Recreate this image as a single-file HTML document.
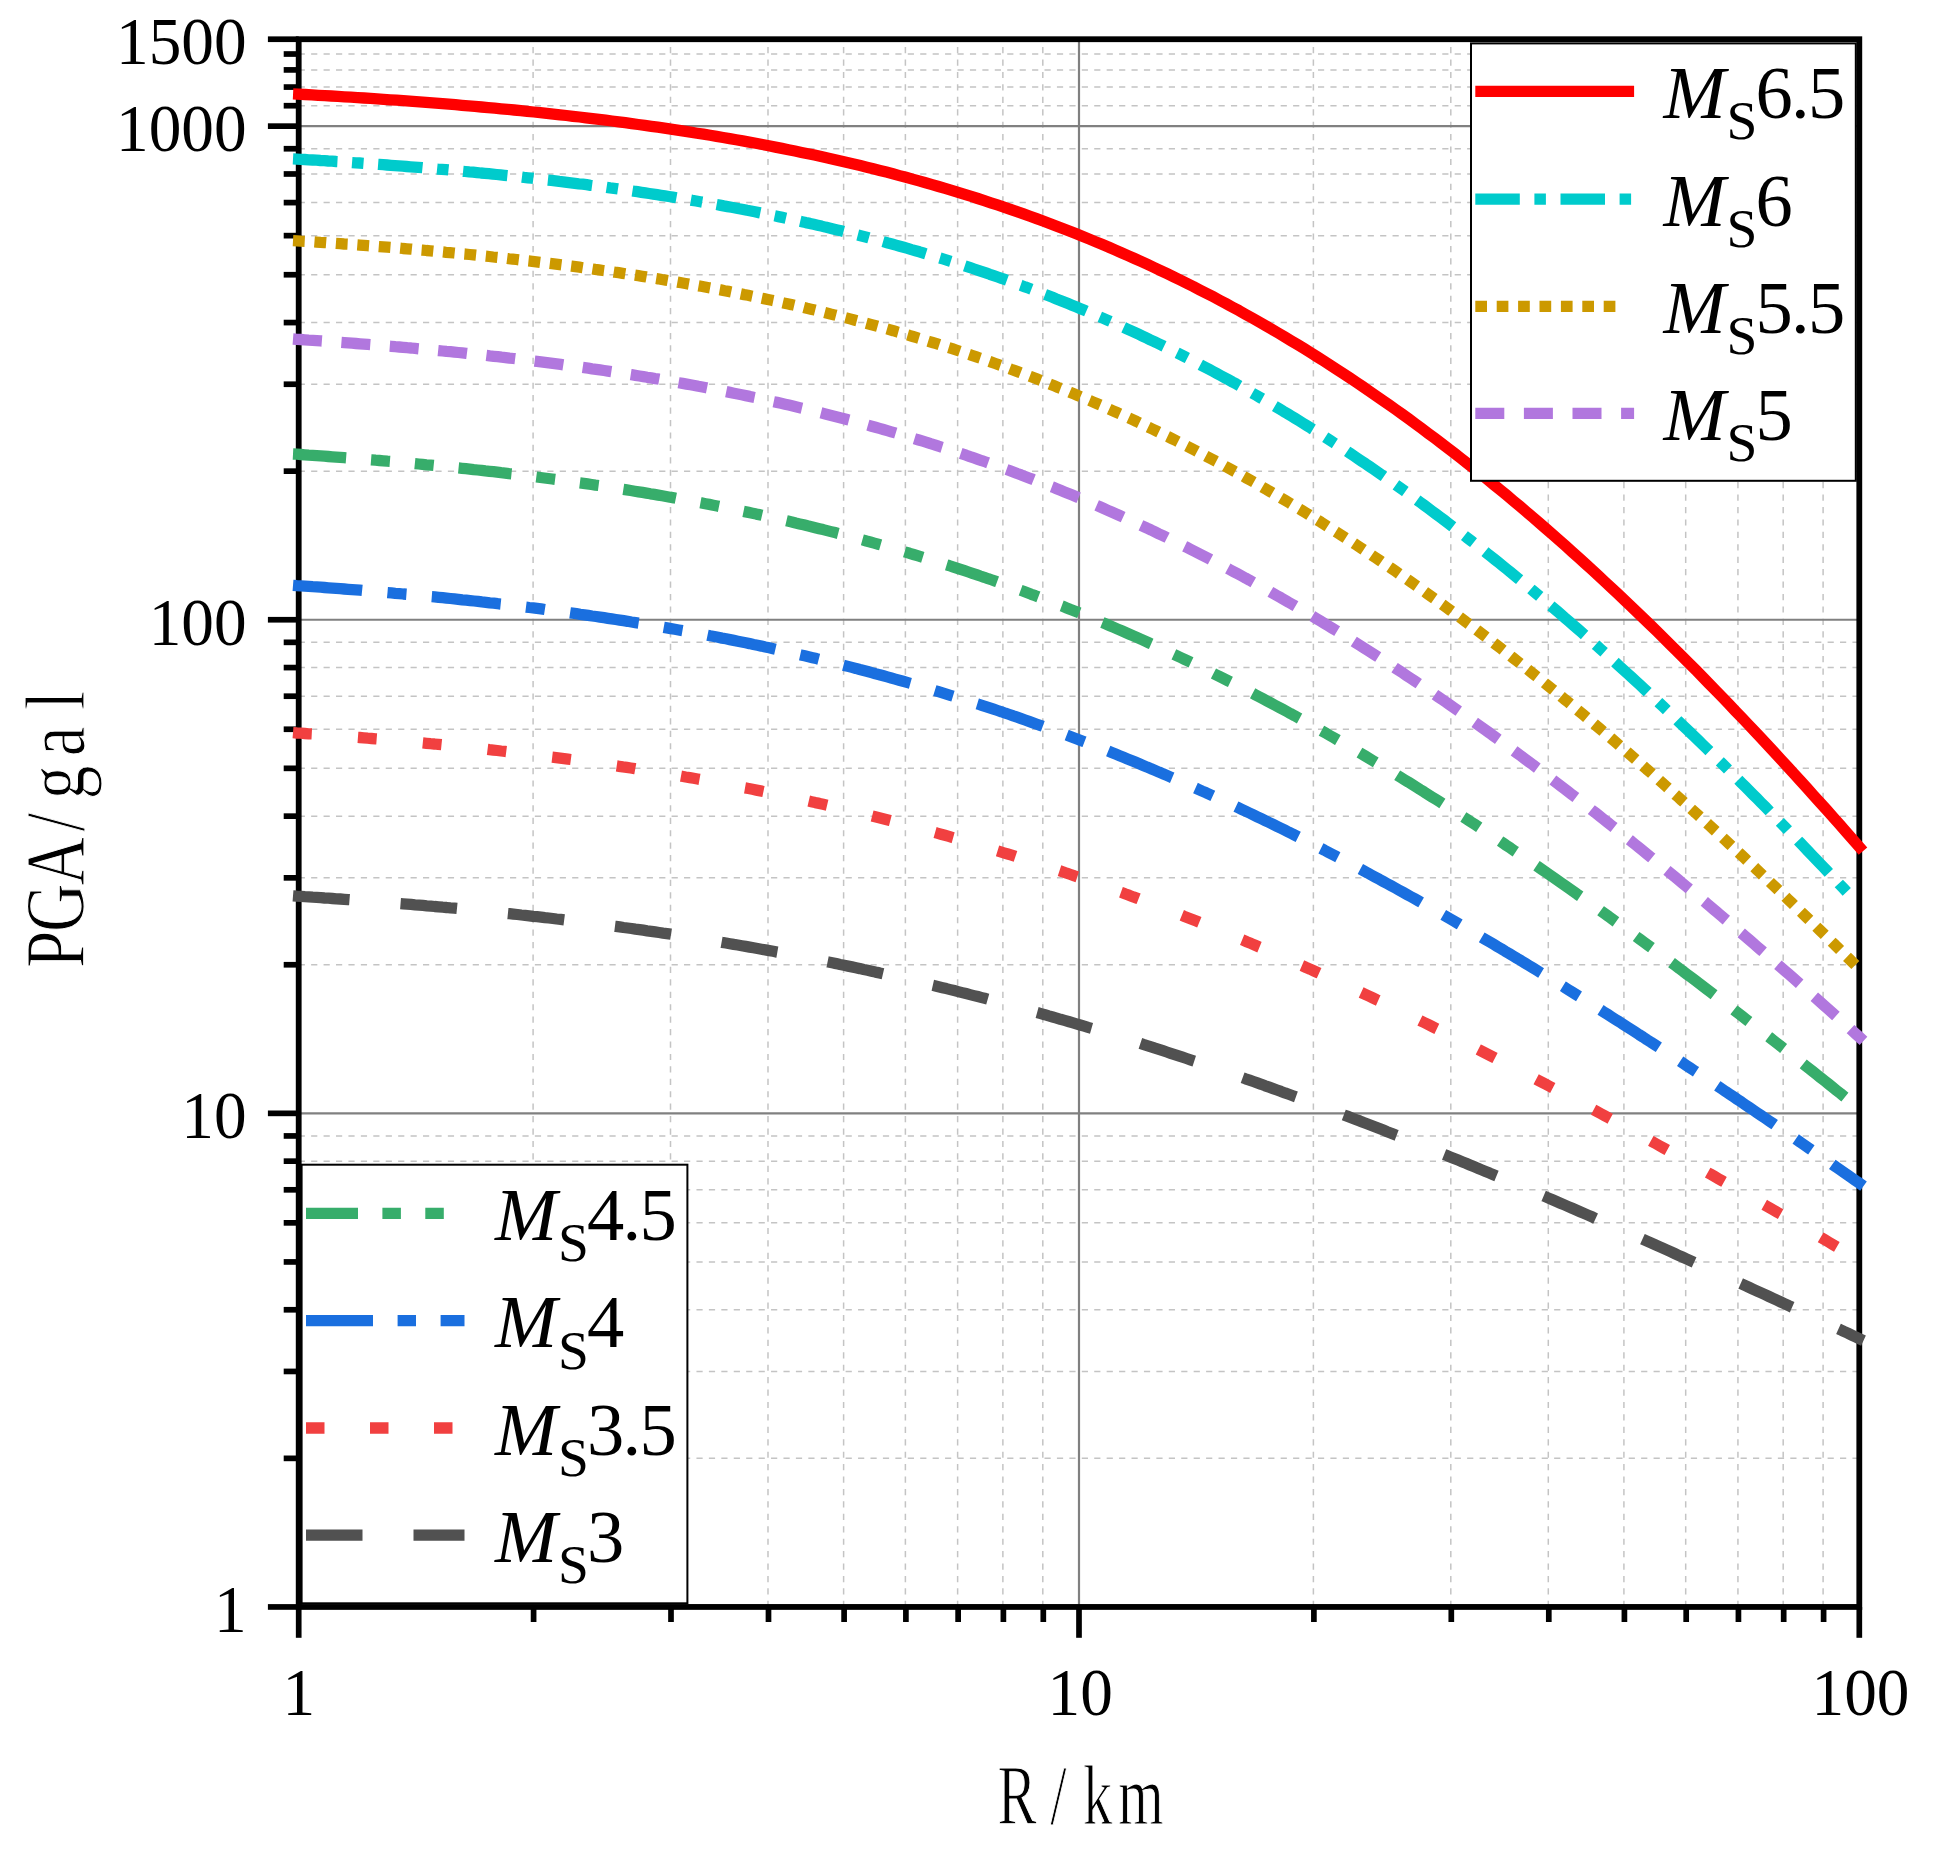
<!DOCTYPE html>
<html lang="zh"><head><meta charset="utf-8"><title>PGA attenuation</title>
<style>html,body{margin:0;padding:0;background:#fff}svg{display:block}text{font-family:"Liberation Serif","Noto Serif CJK SC",serif;fill:#000}</style></head><body>
<svg width="1935" height="1863" viewBox="0 0 1935 1863">
<rect width="1935" height="1863" fill="#fff"/>
<g stroke="#c4c4c4" stroke-width="1.5" stroke-dasharray="6.2 6.23" fill="none">
<path d="M298.7 1458.36H1859.3"/>
<path d="M298.7 1371.44H1859.3"/>
<path d="M298.7 1309.77H1859.3"/>
<path d="M298.7 1261.94H1859.3"/>
<path d="M298.7 1222.85H1859.3"/>
<path d="M298.7 1189.81H1859.3"/>
<path d="M298.7 1161.18H1859.3"/>
<path d="M298.7 1135.94H1859.3"/>
<path d="M298.7 964.76H1859.3"/>
<path d="M298.7 877.84H1859.3"/>
<path d="M298.7 816.17H1859.3"/>
<path d="M298.7 768.34H1859.3"/>
<path d="M298.7 729.25H1859.3"/>
<path d="M298.7 696.21H1859.3"/>
<path d="M298.7 667.58H1859.3"/>
<path d="M298.7 642.34H1859.3"/>
<path d="M298.7 471.16H1859.3"/>
<path d="M298.7 384.24H1859.3"/>
<path d="M298.7 322.57H1859.3"/>
<path d="M298.7 274.74H1859.3"/>
<path d="M298.7 235.65H1859.3"/>
<path d="M298.7 202.61H1859.3"/>
<path d="M298.7 173.98H1859.3"/>
<path d="M298.7 148.74H1859.3"/>
<path d="M298.7 105.72H1859.3"/>
<path d="M298.7 87.07H1859.3"/>
<path d="M298.7 69.91H1859.3"/>
<path d="M298.7 54.02H1859.3"/>
<path d="M533.09 1607.0V39.2"/>
<path d="M670.50 1607.0V39.2"/>
<path d="M767.99 1607.0V39.2"/>
<path d="M843.61 1607.0V39.2"/>
<path d="M905.39 1607.0V39.2"/>
<path d="M957.63 1607.0V39.2"/>
<path d="M1002.88 1607.0V39.2"/>
<path d="M1042.80 1607.0V39.2"/>
<path d="M1313.39 1607.0V39.2"/>
<path d="M1450.80 1607.0V39.2"/>
<path d="M1548.29 1607.0V39.2"/>
<path d="M1623.91 1607.0V39.2"/>
<path d="M1685.69 1607.0V39.2"/>
<path d="M1737.93 1607.0V39.2"/>
<path d="M1783.18 1607.0V39.2"/>
<path d="M1823.10 1607.0V39.2"/>
</g>
<g stroke="#808080" stroke-width="2.2" fill="none">
<path d="M298.7 1113.35H1859.3"/>
<path d="M298.7 619.75H1859.3"/>
<path d="M298.7 126.15H1859.3"/>
<path d="M1079.00 39.2V1607.0"/>
</g>
<g stroke="#000" stroke-width="5.8" fill="none" stroke-linecap="butt">
<rect x="298.70" y="39.23" width="1560.60" height="1567.72"/>
</g>
<g stroke="#000" stroke-width="5.7" fill="none">
<path d="M298.70 1607.0v30.8"/>
<path d="M1079.00 1607.0v30.8"/>
<path d="M1859.30 1607.0v30.8"/>
<path d="M533.59 1607.0v15.0"/>
<path d="M671.00 1607.0v15.0"/>
<path d="M768.49 1607.0v15.0"/>
<path d="M844.11 1607.0v15.0"/>
<path d="M905.89 1607.0v15.0"/>
<path d="M958.13 1607.0v15.0"/>
<path d="M1003.38 1607.0v15.0"/>
<path d="M1043.30 1607.0v15.0"/>
<path d="M1313.89 1607.0v15.0"/>
<path d="M1451.30 1607.0v15.0"/>
<path d="M1548.79 1607.0v15.0"/>
<path d="M1624.41 1607.0v15.0"/>
<path d="M1686.19 1607.0v15.0"/>
<path d="M1738.43 1607.0v15.0"/>
<path d="M1783.68 1607.0v15.0"/>
<path d="M1823.60 1607.0v15.0"/>
<path d="M298.7 1606.95h-30.8"/>
<path d="M298.7 1113.35h-30.8"/>
<path d="M298.7 619.75h-30.8"/>
<path d="M298.7 126.15h-30.8"/>
<path d="M298.7 39.23h-30.8"/>
<path d="M298.7 1458.36h-15.0"/>
<path d="M298.7 1371.44h-15.0"/>
<path d="M298.7 1309.77h-15.0"/>
<path d="M298.7 1261.94h-15.0"/>
<path d="M298.7 1222.85h-15.0"/>
<path d="M298.7 1189.81h-15.0"/>
<path d="M298.7 1161.18h-15.0"/>
<path d="M298.7 1135.94h-15.0"/>
<path d="M298.7 964.76h-15.0"/>
<path d="M298.7 877.84h-15.0"/>
<path d="M298.7 816.17h-15.0"/>
<path d="M298.7 768.34h-15.0"/>
<path d="M298.7 729.25h-15.0"/>
<path d="M298.7 696.21h-15.0"/>
<path d="M298.7 667.58h-15.0"/>
<path d="M298.7 642.34h-15.0"/>
<path d="M298.7 471.16h-15.0"/>
<path d="M298.7 384.24h-15.0"/>
<path d="M298.7 322.57h-15.0"/>
<path d="M298.7 274.74h-15.0"/>
<path d="M298.7 235.65h-15.0"/>
<path d="M298.7 202.61h-15.0"/>
<path d="M298.7 173.98h-15.0"/>
<path d="M298.7 148.74h-15.0"/>
<path d="M298.7 105.72h-15.0"/>
<path d="M298.7 87.07h-15.0"/>
<path d="M298.7 69.91h-15.0"/>
<path d="M298.7 54.02h-15.0"/>
</g>
<g fill="none" stroke-width="11.3" stroke-linejoin="round">
<path d="M293.0 895.9 L296.9 896.2 L300.9 896.4 L304.8 896.7 L308.7 896.9 L312.7 897.2 L316.6 897.4 L320.6 897.7 L324.5 898.0 L328.4 898.2 L332.4 898.5 L336.3 898.8 L340.2 899.0 L344.2 899.3 L348.1 899.6 L352.0 899.9 L356.0 900.1 L359.9 900.4 L363.8 900.7 L367.8 901.0 L371.7 901.3 L375.7 901.6 L379.6 901.9 L383.5 902.2 L387.5 902.5 L391.4 902.8 L395.3 903.2 L399.3 903.5 L403.2 903.8 L407.1 904.1 L411.1 904.4 L415.0 904.8 L419.0 905.1 L422.9 905.4 L426.8 905.8 L430.8 906.1 L434.7 906.5 L438.6 906.8 L442.6 907.2 L446.5 907.5 L450.4 907.9 L454.4 908.2 L458.3 908.6 L462.3 909.0 L466.2 909.4 L470.1 909.7 L474.1 910.1 L478.0 910.5 L481.9 910.9 L485.9 911.3 L489.8 911.7 L493.7 912.1 L497.7 912.5 L501.6 912.9 L505.5 913.3 L509.5 913.7 L513.4 914.1 L517.4 914.5 L521.3 915.0 L525.2 915.4 L529.2 915.8 L533.1 916.3 L537.0 916.7 L541.0 917.1 L544.9 917.6 L548.8 918.0 L552.8 918.5 L556.7 919.0 L560.7 919.4 L564.6 919.9 L568.5 920.4 L572.5 920.9 L576.4 921.3 L580.3 921.8 L584.3 922.3 L588.2 922.8 L592.1 923.3 L596.1 923.8 L600.0 924.3 L604.0 924.8 L607.9 925.3 L611.8 925.9 L615.8 926.4 L619.7 926.9 L623.6 927.5 L627.6 928.0 L631.5 928.5 L635.4 929.1 L639.4 929.6 L643.3 930.2 L647.2 930.8 L651.2 931.3 L655.1 931.9 L659.1 932.5 L663.0 933.1 L666.9 933.6 L670.9 934.2 L674.8 934.8 L678.7 935.4 L682.7 936.0 L686.6 936.6 L690.5 937.3 L694.5 937.9 L698.4 938.5 L702.4 939.1 L706.3 939.8 L710.2 940.4 L714.2 941.0 L718.1 941.7 L722.0 942.4 L726.0 943.0 L729.9 943.7 L733.8 944.4 L737.8 945.0 L741.7 945.7 L745.7 946.4 L749.6 947.1 L753.5 947.8 L757.5 948.5 L761.4 949.2 L765.3 949.9 L769.3 950.6 L773.2 951.3 L777.1 952.1 L781.1 952.8 L785.0 953.5 L788.9 954.3 L792.9 955.0 L796.8 955.8 L800.8 956.6 L804.7 957.3 L808.6 958.1 L812.6 958.9 L816.5 959.7 L820.4 960.4 L824.4 961.2 L828.3 962.0 L832.2 962.8 L836.2 963.6 L840.1 964.5 L844.1 965.3 L848.0 966.1 L851.9 966.9 L855.9 967.8 L859.8 968.6 L863.7 969.5 L867.7 970.3 L871.6 971.2 L875.5 972.1 L879.5 972.9 L883.4 973.8 L887.3 974.7 L891.3 975.6 L895.2 976.5 L899.2 977.4 L903.1 978.3 L907.0 979.2 L911.0 980.1 L914.9 981.0 L918.8 982.0 L922.8 982.9 L926.7 983.8 L930.6 984.8 L934.6 985.7 L938.5 986.7 L942.5 987.7 L946.4 988.6 L950.3 989.6 L954.3 990.6 L958.2 991.6 L962.1 992.6 L966.1 993.6 L970.0 994.6 L973.9 995.6 L977.9 996.6 L981.8 997.6 L985.8 998.6 L989.7 999.7 L993.6 1000.7 L997.6 1001.8 L1001.5 1002.8 L1005.4 1003.9 L1009.4 1004.9 L1013.3 1006.0 L1017.2 1007.1 L1021.2 1008.2 L1025.1 1009.2 L1029.0 1010.3 L1033.0 1011.4 L1036.9 1012.5 L1040.9 1013.6 L1044.8 1014.7 L1048.7 1015.9 L1052.7 1017.0 L1056.6 1018.1 L1060.5 1019.3 L1064.5 1020.4 L1068.4 1021.5 L1072.3 1022.7 L1076.3 1023.9 L1080.2 1025.0 L1084.2 1026.2 L1088.1 1027.4 L1092.0 1028.5 L1096.0 1029.7 L1099.9 1030.9 L1103.8 1032.1 L1107.8 1033.3 L1111.7 1034.5 L1115.6 1035.7 L1119.6 1037.0 L1123.5 1038.2 L1127.5 1039.4 L1131.4 1040.7 L1135.3 1041.9 L1139.3 1043.1 L1143.2 1044.4 L1147.1 1045.6 L1151.1 1046.9 L1155.0 1048.2 L1158.9 1049.4 L1162.9 1050.7 L1166.8 1052.0 L1170.7 1053.3 L1174.7 1054.6 L1178.6 1055.9 L1182.6 1057.2 L1186.5 1058.5 L1190.4 1059.8 L1194.4 1061.1 L1198.3 1062.5 L1202.2 1063.8 L1206.2 1065.1 L1210.1 1066.5 L1214.0 1067.8 L1218.0 1069.2 L1221.9 1070.5 L1225.9 1071.9 L1229.8 1073.2 L1233.7 1074.6 L1237.7 1076.0 L1241.6 1077.4 L1245.5 1078.8 L1249.5 1080.1 L1253.4 1081.5 L1257.3 1082.9 L1261.3 1084.3 L1265.2 1085.8 L1269.2 1087.2 L1273.1 1088.6 L1277.0 1090.0 L1281.0 1091.4 L1284.9 1092.9 L1288.8 1094.3 L1292.8 1095.8 L1296.7 1097.2 L1300.6 1098.6 L1304.6 1100.1 L1308.5 1101.6 L1312.4 1103.0 L1316.4 1104.5 L1320.3 1106.0 L1324.3 1107.4 L1328.2 1108.9 L1332.1 1110.4 L1336.1 1111.9 L1340.0 1113.4 L1343.9 1114.9 L1347.9 1116.4 L1351.8 1117.9 L1355.7 1119.4 L1359.7 1120.9 L1363.6 1122.5 L1367.6 1124.0 L1371.5 1125.5 L1375.4 1127.0 L1379.4 1128.6 L1383.3 1130.1 L1387.2 1131.7 L1391.2 1133.2 L1395.1 1134.8 L1399.0 1136.3 L1403.0 1137.9 L1406.9 1139.4 L1410.8 1141.0 L1414.8 1142.6 L1418.7 1144.2 L1422.7 1145.7 L1426.6 1147.3 L1430.5 1148.9 L1434.5 1150.5 L1438.4 1152.1 L1442.3 1153.7 L1446.3 1155.3 L1450.2 1156.9 L1454.1 1158.5 L1458.1 1160.1 L1462.0 1161.7 L1466.0 1163.3 L1469.9 1165.0 L1473.8 1166.6 L1477.8 1168.2 L1481.7 1169.9 L1485.6 1171.5 L1489.6 1173.1 L1493.5 1174.8 L1497.4 1176.4 L1501.4 1178.1 L1505.3 1179.7 L1509.3 1181.4 L1513.2 1183.0 L1517.1 1184.7 L1521.1 1186.4 L1525.0 1188.0 L1528.9 1189.7 L1532.9 1191.4 L1536.8 1193.1 L1540.7 1194.7 L1544.7 1196.4 L1548.6 1198.1 L1552.5 1199.8 L1556.5 1201.5 L1560.4 1203.2 L1564.4 1204.9 L1568.3 1206.6 L1572.2 1208.3 L1576.2 1210.0 L1580.1 1211.7 L1584.0 1213.4 L1588.0 1215.1 L1591.9 1216.8 L1595.8 1218.6 L1599.8 1220.3 L1603.7 1222.0 L1607.7 1223.7 L1611.6 1225.5 L1615.5 1227.2 L1619.5 1228.9 L1623.4 1230.7 L1627.3 1232.4 L1631.3 1234.2 L1635.2 1235.9 L1639.1 1237.6 L1643.1 1239.4 L1647.0 1241.1 L1651.0 1242.9 L1654.9 1244.7 L1658.8 1246.4 L1662.8 1248.2 L1666.7 1249.9 L1670.6 1251.7 L1674.6 1253.5 L1678.5 1255.3 L1682.4 1257.0 L1686.4 1258.8 L1690.3 1260.6 L1694.2 1262.4 L1698.2 1264.1 L1702.1 1265.9 L1706.1 1267.7 L1710.0 1269.5 L1713.9 1271.3 L1717.9 1273.1 L1721.8 1274.9 L1725.7 1276.7 L1729.7 1278.5 L1733.6 1280.3 L1737.5 1282.1 L1741.5 1283.9 L1745.4 1285.7 L1749.4 1287.5 L1753.3 1289.3 L1757.2 1291.1 L1761.2 1292.9 L1765.1 1294.7 L1769.0 1296.5 L1773.0 1298.4 L1776.9 1300.2 L1780.8 1302.0 L1784.8 1303.8 L1788.7 1305.7 L1792.7 1307.5 L1796.6 1309.3 L1800.5 1311.1 L1804.5 1313.0 L1808.4 1314.8 L1812.3 1316.6 L1816.3 1318.5 L1820.2 1320.3 L1824.1 1322.2 L1828.1 1324.0 L1832.0 1325.8 L1835.9 1327.7 L1839.9 1329.5 L1843.8 1331.4 L1847.8 1333.2 L1851.7 1335.1 L1855.6 1336.9 L1859.6 1338.8 L1863.5 1340.6" stroke="#515151" stroke-dasharray="56.67 51.15"/>
<path d="M293.0 732.7 L296.9 733.0 L300.9 733.2 L304.8 733.5 L308.7 733.8 L312.6 734.0 L316.6 734.3 L320.5 734.6 L324.4 734.9 L328.3 735.2 L332.3 735.4 L336.2 735.7 L340.1 736.0 L344.1 736.3 L348.0 736.6 L351.9 736.9 L355.8 737.2 L359.8 737.5 L363.7 737.8 L367.6 738.2 L371.5 738.5 L375.5 738.8 L379.4 739.1 L383.3 739.5 L387.3 739.8 L391.2 740.1 L395.1 740.5 L399.0 740.8 L403.0 741.1 L406.9 741.5 L410.8 741.8 L414.7 742.2 L418.7 742.6 L422.6 742.9 L426.5 743.3 L430.5 743.7 L434.4 744.0 L438.3 744.4 L442.2 744.8 L446.2 745.2 L450.1 745.6 L454.0 745.9 L457.9 746.3 L461.9 746.7 L465.8 747.1 L469.7 747.6 L473.7 748.0 L477.6 748.4 L481.5 748.8 L485.4 749.2 L489.4 749.7 L493.3 750.1 L497.2 750.5 L501.1 751.0 L505.1 751.4 L509.0 751.9 L512.9 752.3 L516.9 752.8 L520.8 753.2 L524.7 753.7 L528.6 754.2 L532.6 754.6 L536.5 755.1 L540.4 755.6 L544.3 756.1 L548.3 756.6 L552.2 757.1 L556.1 757.6 L560.1 758.1 L564.0 758.6 L567.9 759.1 L571.8 759.6 L575.8 760.2 L579.7 760.7 L583.6 761.2 L587.5 761.8 L591.5 762.3 L595.4 762.9 L599.3 763.4 L603.3 764.0 L607.2 764.5 L611.1 765.1 L615.0 765.7 L619.0 766.3 L622.9 766.9 L626.8 767.4 L630.7 768.0 L634.7 768.6 L638.6 769.3 L642.5 769.9 L646.5 770.5 L650.4 771.1 L654.3 771.7 L658.2 772.4 L662.2 773.0 L666.1 773.7 L670.0 774.3 L673.9 775.0 L677.9 775.6 L681.8 776.3 L685.7 777.0 L689.7 777.6 L693.6 778.3 L697.5 779.0 L701.4 779.7 L705.4 780.4 L709.3 781.1 L713.2 781.8 L717.2 782.6 L721.1 783.3 L725.0 784.0 L728.9 784.8 L732.9 785.5 L736.8 786.2 L740.7 787.0 L744.6 787.8 L748.6 788.5 L752.5 789.3 L756.4 790.1 L760.4 790.9 L764.3 791.7 L768.2 792.5 L772.1 793.3 L776.1 794.1 L780.0 794.9 L783.9 795.7 L787.8 796.6 L791.8 797.4 L795.7 798.2 L799.6 799.1 L803.6 799.9 L807.5 800.8 L811.4 801.7 L815.3 802.6 L819.3 803.4 L823.2 804.3 L827.1 805.2 L831.0 806.1 L835.0 807.0 L838.9 808.0 L842.8 808.9 L846.8 809.8 L850.7 810.8 L854.6 811.7 L858.5 812.6 L862.5 813.6 L866.4 814.6 L870.3 815.5 L874.2 816.5 L878.2 817.5 L882.1 818.5 L886.0 819.5 L890.0 820.5 L893.9 821.5 L897.8 822.5 L901.7 823.6 L905.7 824.6 L909.6 825.6 L913.5 826.7 L917.4 827.7 L921.4 828.8 L925.3 829.9 L929.2 831.0 L933.2 832.0 L937.1 833.1 L941.0 834.2 L944.9 835.3 L948.9 836.4 L952.8 837.6 L956.7 838.7 L960.6 839.8 L964.6 841.0 L968.5 842.1 L972.4 843.3 L976.4 844.4 L980.3 845.6 L984.2 846.8 L988.1 848.0 L992.1 849.2 L996.0 850.4 L999.9 851.6 L1003.8 852.8 L1007.8 854.0 L1011.7 855.2 L1015.6 856.5 L1019.6 857.7 L1023.5 858.9 L1027.4 860.2 L1031.3 861.5 L1035.3 862.7 L1039.2 864.0 L1043.1 865.3 L1047.0 866.6 L1051.0 867.9 L1054.9 869.2 L1058.8 870.5 L1062.8 871.8 L1066.7 873.2 L1070.6 874.5 L1074.5 875.9 L1078.5 877.2 L1082.4 878.6 L1086.3 879.9 L1090.2 881.3 L1094.2 882.7 L1098.1 884.1 L1102.0 885.5 L1106.0 886.9 L1109.9 888.3 L1113.8 889.7 L1117.7 891.1 L1121.7 892.5 L1125.6 894.0 L1129.5 895.4 L1133.4 896.9 L1137.4 898.3 L1141.3 899.8 L1145.2 901.3 L1149.2 902.8 L1153.1 904.2 L1157.0 905.7 L1160.9 907.2 L1164.9 908.7 L1168.8 910.3 L1172.7 911.8 L1176.6 913.3 L1180.6 914.8 L1184.5 916.4 L1188.4 917.9 L1192.4 919.5 L1196.3 921.0 L1200.2 922.6 L1204.1 924.2 L1208.1 925.8 L1212.0 927.4 L1215.9 929.0 L1219.8 930.6 L1223.8 932.2 L1227.7 933.8 L1231.6 935.4 L1235.6 937.0 L1239.5 938.7 L1243.4 940.3 L1247.3 942.0 L1251.3 943.6 L1255.2 945.3 L1259.1 947.0 L1263.0 948.6 L1267.0 950.3 L1270.9 952.0 L1274.8 953.7 L1278.8 955.4 L1282.7 957.1 L1286.6 958.8 L1290.5 960.5 L1294.5 962.3 L1298.4 964.0 L1302.3 965.7 L1306.2 967.5 L1310.2 969.2 L1314.1 971.0 L1318.0 972.7 L1322.0 974.5 L1325.9 976.3 L1329.8 978.1 L1333.7 979.9 L1337.7 981.6 L1341.6 983.4 L1345.5 985.3 L1349.4 987.1 L1353.4 988.9 L1357.3 990.7 L1361.2 992.5 L1365.2 994.4 L1369.1 996.2 L1373.0 998.0 L1376.9 999.9 L1380.9 1001.7 L1384.8 1003.6 L1388.7 1005.5 L1392.6 1007.3 L1396.6 1009.2 L1400.5 1011.1 L1404.4 1013.0 L1408.4 1014.9 L1412.3 1016.8 L1416.2 1018.7 L1420.1 1020.6 L1424.1 1022.5 L1428.0 1024.4 L1431.9 1026.4 L1435.8 1028.3 L1439.8 1030.2 L1443.7 1032.2 L1447.6 1034.1 L1451.6 1036.1 L1455.5 1038.0 L1459.4 1040.0 L1463.3 1042.0 L1467.3 1043.9 L1471.2 1045.9 L1475.1 1047.9 L1479.1 1049.9 L1483.0 1051.9 L1486.9 1053.9 L1490.8 1055.9 L1494.8 1057.9 L1498.7 1059.9 L1502.6 1061.9 L1506.5 1063.9 L1510.5 1065.9 L1514.4 1067.9 L1518.3 1070.0 L1522.3 1072.0 L1526.2 1074.0 L1530.1 1076.1 L1534.0 1078.1 L1538.0 1080.2 L1541.9 1082.3 L1545.8 1084.3 L1549.7 1086.4 L1553.7 1088.5 L1557.6 1090.5 L1561.5 1092.6 L1565.5 1094.7 L1569.4 1096.8 L1573.3 1098.9 L1577.2 1101.0 L1581.2 1103.1 L1585.1 1105.2 L1589.0 1107.3 L1592.9 1109.4 L1596.9 1111.5 L1600.8 1113.6 L1604.7 1115.7 L1608.7 1117.9 L1612.6 1120.0 L1616.5 1122.1 L1620.4 1124.3 L1624.4 1126.4 L1628.3 1128.5 L1632.2 1130.7 L1636.1 1132.8 L1640.1 1135.0 L1644.0 1137.1 L1647.9 1139.3 L1651.9 1141.5 L1655.8 1143.6 L1659.7 1145.8 L1663.6 1148.0 L1667.6 1150.2 L1671.5 1152.3 L1675.4 1154.5 L1679.3 1156.7 L1683.3 1158.9 L1687.2 1161.1 L1691.1 1163.3 L1695.1 1165.5 L1699.0 1167.7 L1702.9 1169.9 L1706.8 1172.1 L1710.8 1174.3 L1714.7 1176.5 L1718.6 1178.8 L1722.5 1181.0 L1726.5 1183.2 L1730.4 1185.4 L1734.3 1187.7 L1738.3 1189.9 L1742.2 1192.1 L1746.1 1194.4 L1750.0 1196.6 L1754.0 1198.9 L1757.9 1201.1 L1761.8 1203.4 L1765.7 1205.6 L1769.7 1207.9 L1773.6 1210.1 L1777.5 1212.4 L1781.5 1214.6 L1785.4 1216.9 L1789.3 1219.2 L1793.2 1221.4 L1797.2 1223.7 L1801.1 1226.0 L1805.0 1228.3 L1808.9 1230.5 L1812.9 1232.8 L1816.8 1235.1 L1820.7 1237.4 L1824.7 1239.7 L1828.6 1242.0 L1832.5 1244.3 L1836.4 1246.6 L1840.4 1248.9 L1844.3 1251.2 L1848.2 1253.5 L1852.1 1255.8 L1856.1 1258.1 L1860.0 1260.4" stroke="#F14040" stroke-dasharray="18.82 46.28"/>
<path d="M293.0 585.3 L296.9 585.6 L300.9 585.8 L304.8 586.1 L308.7 586.4 L312.7 586.7 L316.6 586.9 L320.6 587.2 L324.5 587.5 L328.4 587.8 L332.4 588.1 L336.3 588.4 L340.2 588.7 L344.2 589.0 L348.1 589.3 L352.0 589.6 L356.0 589.9 L359.9 590.2 L363.8 590.6 L367.8 590.9 L371.7 591.2 L375.7 591.6 L379.6 591.9 L383.5 592.2 L387.5 592.6 L391.4 592.9 L395.3 593.3 L399.3 593.6 L403.2 594.0 L407.1 594.3 L411.1 594.7 L415.0 595.1 L419.0 595.4 L422.9 595.8 L426.8 596.2 L430.8 596.6 L434.7 596.9 L438.6 597.3 L442.6 597.7 L446.5 598.1 L450.4 598.5 L454.4 598.9 L458.3 599.3 L462.3 599.8 L466.2 600.2 L470.1 600.6 L474.1 601.0 L478.0 601.4 L481.9 601.9 L485.9 602.3 L489.8 602.8 L493.7 603.2 L497.7 603.7 L501.6 604.1 L505.5 604.6 L509.5 605.1 L513.4 605.5 L517.4 606.0 L521.3 606.5 L525.2 607.0 L529.2 607.5 L533.1 607.9 L537.0 608.4 L541.0 608.9 L544.9 609.5 L548.8 610.0 L552.8 610.5 L556.7 611.0 L560.7 611.5 L564.6 612.1 L568.5 612.6 L572.5 613.2 L576.4 613.7 L580.3 614.3 L584.3 614.8 L588.2 615.4 L592.1 616.0 L596.1 616.5 L600.0 617.1 L604.0 617.7 L607.9 618.3 L611.8 618.9 L615.8 619.5 L619.7 620.1 L623.6 620.7 L627.6 621.3 L631.5 622.0 L635.4 622.6 L639.4 623.2 L643.3 623.9 L647.2 624.5 L651.2 625.2 L655.1 625.9 L659.1 626.5 L663.0 627.2 L666.9 627.9 L670.9 628.6 L674.8 629.3 L678.7 630.0 L682.7 630.7 L686.6 631.4 L690.5 632.1 L694.5 632.8 L698.4 633.5 L702.4 634.3 L706.3 635.0 L710.2 635.8 L714.2 636.5 L718.1 637.3 L722.0 638.1 L726.0 638.8 L729.9 639.6 L733.8 640.4 L737.8 641.2 L741.7 642.0 L745.7 642.8 L749.6 643.6 L753.5 644.5 L757.5 645.3 L761.4 646.1 L765.3 647.0 L769.3 647.8 L773.2 648.7 L777.1 649.6 L781.1 650.4 L785.0 651.3 L788.9 652.2 L792.9 653.1 L796.8 654.0 L800.8 654.9 L804.7 655.8 L808.6 656.7 L812.6 657.7 L816.5 658.6 L820.4 659.6 L824.4 660.5 L828.3 661.5 L832.2 662.5 L836.2 663.4 L840.1 664.4 L844.1 665.4 L848.0 666.4 L851.9 667.4 L855.9 668.4 L859.8 669.5 L863.7 670.5 L867.7 671.5 L871.6 672.6 L875.5 673.7 L879.5 674.7 L883.4 675.8 L887.3 676.9 L891.3 678.0 L895.2 679.1 L899.2 680.2 L903.1 681.3 L907.0 682.4 L911.0 683.5 L914.9 684.7 L918.8 685.8 L922.8 687.0 L926.7 688.1 L930.6 689.3 L934.6 690.5 L938.5 691.7 L942.5 692.9 L946.4 694.1 L950.3 695.3 L954.3 696.5 L958.2 697.7 L962.1 699.0 L966.1 700.2 L970.0 701.5 L973.9 702.8 L977.9 704.0 L981.8 705.3 L985.8 706.6 L989.7 707.9 L993.6 709.2 L997.6 710.5 L1001.5 711.8 L1005.4 713.2 L1009.4 714.5 L1013.3 715.9 L1017.2 717.2 L1021.2 718.6 L1025.1 720.0 L1029.0 721.4 L1033.0 722.8 L1036.9 724.2 L1040.9 725.6 L1044.8 727.0 L1048.7 728.4 L1052.7 729.9 L1056.6 731.3 L1060.5 732.8 L1064.5 734.2 L1068.4 735.7 L1072.3 737.2 L1076.3 738.7 L1080.2 740.2 L1084.2 741.7 L1088.1 743.2 L1092.0 744.7 L1096.0 746.3 L1099.9 747.8 L1103.8 749.4 L1107.8 750.9 L1111.7 752.5 L1115.6 754.1 L1119.6 755.7 L1123.5 757.3 L1127.5 758.9 L1131.4 760.5 L1135.3 762.1 L1139.3 763.8 L1143.2 765.4 L1147.1 767.1 L1151.1 768.7 L1155.0 770.4 L1158.9 772.1 L1162.9 773.7 L1166.8 775.4 L1170.7 777.1 L1174.7 778.8 L1178.6 780.6 L1182.6 782.3 L1186.5 784.0 L1190.4 785.8 L1194.4 787.5 L1198.3 789.3 L1202.2 791.1 L1206.2 792.8 L1210.1 794.6 L1214.0 796.4 L1218.0 798.2 L1221.9 800.1 L1225.9 801.9 L1229.8 803.7 L1233.7 805.5 L1237.7 807.4 L1241.6 809.3 L1245.5 811.1 L1249.5 813.0 L1253.4 814.9 L1257.3 816.8 L1261.3 818.7 L1265.2 820.6 L1269.2 822.5 L1273.1 824.4 L1277.0 826.3 L1281.0 828.3 L1284.9 830.2 L1288.8 832.2 L1292.8 834.1 L1296.7 836.1 L1300.6 838.1 L1304.6 840.1 L1308.5 842.1 L1312.4 844.1 L1316.4 846.1 L1320.3 848.1 L1324.3 850.1 L1328.2 852.2 L1332.1 854.2 L1336.1 856.3 L1340.0 858.3 L1343.9 860.4 L1347.9 862.5 L1351.8 864.5 L1355.7 866.6 L1359.7 868.7 L1363.6 870.8 L1367.6 872.9 L1371.5 875.1 L1375.4 877.2 L1379.4 879.3 L1383.3 881.5 L1387.2 883.6 L1391.2 885.8 L1395.1 887.9 L1399.0 890.1 L1403.0 892.3 L1406.9 894.5 L1410.8 896.6 L1414.8 898.8 L1418.7 901.0 L1422.7 903.3 L1426.6 905.5 L1430.5 907.7 L1434.5 909.9 L1438.4 912.2 L1442.3 914.4 L1446.3 916.7 L1450.2 918.9 L1454.1 921.2 L1458.1 923.5 L1462.0 925.8 L1466.0 928.0 L1469.9 930.3 L1473.8 932.6 L1477.8 934.9 L1481.7 937.3 L1485.6 939.6 L1489.6 941.9 L1493.5 944.2 L1497.4 946.6 L1501.4 948.9 L1505.3 951.3 L1509.3 953.6 L1513.2 956.0 L1517.1 958.4 L1521.1 960.7 L1525.0 963.1 L1528.9 965.5 L1532.9 967.9 L1536.8 970.3 L1540.7 972.7 L1544.7 975.1 L1548.6 977.5 L1552.5 979.9 L1556.5 982.4 L1560.4 984.8 L1564.4 987.2 L1568.3 989.7 L1572.2 992.1 L1576.2 994.6 L1580.1 997.0 L1584.0 999.5 L1588.0 1002.0 L1591.9 1004.5 L1595.8 1006.9 L1599.8 1009.4 L1603.7 1011.9 L1607.7 1014.4 L1611.6 1016.9 L1615.5 1019.4 L1619.5 1021.9 L1623.4 1024.5 L1627.3 1027.0 L1631.3 1029.5 L1635.2 1032.0 L1639.1 1034.6 L1643.1 1037.1 L1647.0 1039.7 L1651.0 1042.2 L1654.9 1044.8 L1658.8 1047.3 L1662.8 1049.9 L1666.7 1052.5 L1670.6 1055.0 L1674.6 1057.6 L1678.5 1060.2 L1682.4 1062.8 L1686.4 1065.4 L1690.3 1068.0 L1694.2 1070.6 L1698.2 1073.2 L1702.1 1075.8 L1706.1 1078.4 L1710.0 1081.0 L1713.9 1083.7 L1717.9 1086.3 L1721.8 1088.9 L1725.7 1091.6 L1729.7 1094.2 L1733.6 1096.8 L1737.5 1099.5 L1741.5 1102.1 L1745.4 1104.8 L1749.4 1107.5 L1753.3 1110.1 L1757.2 1112.8 L1761.2 1115.5 L1765.1 1118.1 L1769.0 1120.8 L1773.0 1123.5 L1776.9 1126.2 L1780.8 1128.9 L1784.8 1131.5 L1788.7 1134.2 L1792.7 1136.9 L1796.6 1139.6 L1800.5 1142.4 L1804.5 1145.1 L1808.4 1147.8 L1812.3 1150.5 L1816.3 1153.2 L1820.2 1155.9 L1824.1 1158.7 L1828.1 1161.4 L1832.0 1164.1 L1835.9 1166.9 L1839.9 1169.6 L1843.8 1172.3 L1847.8 1175.1 L1851.7 1177.8 L1855.6 1180.6 L1859.6 1183.3 L1863.5 1186.1" stroke="#1A6FDF" stroke-dasharray="69.32 25.45 19.04 25.45"/>
<path d="M293.0 454.0 L296.9 454.2 L300.9 454.5 L304.8 454.8 L308.7 455.1 L312.6 455.3 L316.6 455.6 L320.5 455.9 L324.4 456.2 L328.3 456.5 L332.3 456.8 L336.2 457.1 L340.1 457.4 L344.1 457.7 L348.0 458.0 L351.9 458.3 L355.8 458.6 L359.8 458.9 L363.7 459.2 L367.6 459.5 L371.5 459.8 L375.5 460.2 L379.4 460.5 L383.3 460.8 L387.3 461.2 L391.2 461.5 L395.1 461.9 L399.0 462.2 L403.0 462.6 L406.9 462.9 L410.8 463.3 L414.7 463.6 L418.7 464.0 L422.6 464.4 L426.5 464.8 L430.5 465.1 L434.4 465.5 L438.3 465.9 L442.2 466.3 L446.2 466.7 L450.1 467.1 L454.0 467.5 L457.9 467.9 L461.9 468.3 L465.8 468.7 L469.7 469.1 L473.7 469.6 L477.6 470.0 L481.5 470.4 L485.4 470.9 L489.4 471.3 L493.3 471.7 L497.2 472.2 L501.1 472.7 L505.1 473.1 L509.0 473.6 L512.9 474.0 L516.9 474.5 L520.8 475.0 L524.7 475.5 L528.6 476.0 L532.6 476.5 L536.5 477.0 L540.4 477.5 L544.3 478.0 L548.3 478.5 L552.2 479.0 L556.1 479.5 L560.1 480.1 L564.0 480.6 L567.9 481.1 L571.8 481.7 L575.8 482.2 L579.7 482.8 L583.6 483.3 L587.5 483.9 L591.5 484.5 L595.4 485.1 L599.3 485.6 L603.3 486.2 L607.2 486.8 L611.1 487.4 L615.0 488.0 L619.0 488.6 L622.9 489.3 L626.8 489.9 L630.7 490.5 L634.7 491.2 L638.6 491.8 L642.5 492.4 L646.5 493.1 L650.4 493.8 L654.3 494.4 L658.2 495.1 L662.2 495.8 L666.1 496.5 L670.0 497.2 L673.9 497.8 L677.9 498.6 L681.8 499.3 L685.7 500.0 L689.7 500.7 L693.6 501.4 L697.5 502.2 L701.4 502.9 L705.4 503.7 L709.3 504.4 L713.2 505.2 L717.2 506.0 L721.1 506.8 L725.0 507.5 L728.9 508.3 L732.9 509.1 L736.8 509.9 L740.7 510.8 L744.6 511.6 L748.6 512.4 L752.5 513.2 L756.4 514.1 L760.4 514.9 L764.3 515.8 L768.2 516.7 L772.1 517.6 L776.1 518.4 L780.0 519.3 L783.9 520.2 L787.8 521.1 L791.8 522.0 L795.7 523.0 L799.6 523.9 L803.6 524.8 L807.5 525.8 L811.4 526.7 L815.3 527.7 L819.3 528.7 L823.2 529.6 L827.1 530.6 L831.0 531.6 L835.0 532.6 L838.9 533.6 L842.8 534.7 L846.8 535.7 L850.7 536.7 L854.6 537.8 L858.5 538.8 L862.5 539.9 L866.4 541.0 L870.3 542.0 L874.2 543.1 L878.2 544.2 L882.1 545.3 L886.0 546.5 L890.0 547.6 L893.9 548.7 L897.8 549.8 L901.7 551.0 L905.7 552.2 L909.6 553.3 L913.5 554.5 L917.4 555.7 L921.4 556.9 L925.3 558.1 L929.2 559.3 L933.2 560.5 L937.1 561.8 L941.0 563.0 L944.9 564.3 L948.9 565.5 L952.8 566.8 L956.7 568.1 L960.6 569.4 L964.6 570.7 L968.5 572.0 L972.4 573.3 L976.4 574.6 L980.3 576.0 L984.2 577.3 L988.1 578.7 L992.1 580.0 L996.0 581.4 L999.9 582.8 L1003.8 584.2 L1007.8 585.6 L1011.7 587.0 L1015.6 588.5 L1019.6 589.9 L1023.5 591.3 L1027.4 592.8 L1031.3 594.3 L1035.3 595.7 L1039.2 597.2 L1043.1 598.7 L1047.0 600.2 L1051.0 601.7 L1054.9 603.3 L1058.8 604.8 L1062.8 606.3 L1066.7 607.9 L1070.6 609.5 L1074.5 611.0 L1078.5 612.6 L1082.4 614.2 L1086.3 615.8 L1090.2 617.5 L1094.2 619.1 L1098.1 620.7 L1102.0 622.4 L1106.0 624.0 L1109.9 625.7 L1113.8 627.4 L1117.7 629.1 L1121.7 630.8 L1125.6 632.5 L1129.5 634.2 L1133.4 635.9 L1137.4 637.7 L1141.3 639.4 L1145.2 641.2 L1149.2 643.0 L1153.1 644.7 L1157.0 646.5 L1160.9 648.3 L1164.9 650.1 L1168.8 652.0 L1172.7 653.8 L1176.6 655.6 L1180.6 657.5 L1184.5 659.4 L1188.4 661.2 L1192.4 663.1 L1196.3 665.0 L1200.2 666.9 L1204.1 668.8 L1208.1 670.8 L1212.0 672.7 L1215.9 674.7 L1219.8 676.6 L1223.8 678.6 L1227.7 680.6 L1231.6 682.5 L1235.6 684.5 L1239.5 686.5 L1243.4 688.6 L1247.3 690.6 L1251.3 692.6 L1255.2 694.7 L1259.1 696.7 L1263.0 698.8 L1267.0 700.9 L1270.9 703.0 L1274.8 705.1 L1278.8 707.2 L1282.7 709.3 L1286.6 711.4 L1290.5 713.6 L1294.5 715.7 L1298.4 717.9 L1302.3 720.0 L1306.2 722.2 L1310.2 724.4 L1314.1 726.6 L1318.0 728.8 L1322.0 731.0 L1325.9 733.2 L1329.8 735.5 L1333.7 737.7 L1337.7 740.0 L1341.6 742.2 L1345.5 744.5 L1349.4 746.8 L1353.4 749.1 L1357.3 751.4 L1361.2 753.7 L1365.2 756.0 L1369.1 758.3 L1373.0 760.7 L1376.9 763.0 L1380.9 765.4 L1384.8 767.8 L1388.7 770.1 L1392.6 772.5 L1396.6 774.9 L1400.5 777.3 L1404.4 779.7 L1408.4 782.1 L1412.3 784.6 L1416.2 787.0 L1420.1 789.5 L1424.1 791.9 L1428.0 794.4 L1431.9 796.9 L1435.8 799.3 L1439.8 801.8 L1443.7 804.3 L1447.6 806.8 L1451.6 809.4 L1455.5 811.9 L1459.4 814.4 L1463.3 817.0 L1467.3 819.5 L1471.2 822.1 L1475.1 824.6 L1479.1 827.2 L1483.0 829.8 L1486.9 832.4 L1490.8 835.0 L1494.8 837.6 L1498.7 840.2 L1502.6 842.8 L1506.5 845.5 L1510.5 848.1 L1514.4 850.8 L1518.3 853.4 L1522.3 856.1 L1526.2 858.8 L1530.1 861.4 L1534.0 864.1 L1538.0 866.8 L1541.9 869.5 L1545.8 872.2 L1549.7 874.9 L1553.7 877.7 L1557.6 880.4 L1561.5 883.1 L1565.5 885.9 L1569.4 888.6 L1573.3 891.4 L1577.2 894.2 L1581.2 896.9 L1585.1 899.7 L1589.0 902.5 L1592.9 905.3 L1596.9 908.1 L1600.8 910.9 L1604.7 913.7 L1608.7 916.5 L1612.6 919.4 L1616.5 922.2 L1620.4 925.1 L1624.4 927.9 L1628.3 930.8 L1632.2 933.6 L1636.1 936.5 L1640.1 939.4 L1644.0 942.3 L1647.9 945.1 L1651.9 948.0 L1655.8 950.9 L1659.7 953.8 L1663.6 956.8 L1667.6 959.7 L1671.5 962.6 L1675.4 965.5 L1679.3 968.5 L1683.3 971.4 L1687.2 974.4 L1691.1 977.3 L1695.1 980.3 L1699.0 983.2 L1702.9 986.2 L1706.8 989.2 L1710.8 992.2 L1714.7 995.2 L1718.6 998.1 L1722.5 1001.1 L1726.5 1004.1 L1730.4 1007.2 L1734.3 1010.2 L1738.3 1013.2 L1742.2 1016.2 L1746.1 1019.3 L1750.0 1022.3 L1754.0 1025.3 L1757.9 1028.4 L1761.8 1031.4 L1765.7 1034.5 L1769.7 1037.5 L1773.6 1040.6 L1777.5 1043.7 L1781.5 1046.8 L1785.4 1049.8 L1789.3 1052.9 L1793.2 1056.0 L1797.2 1059.1 L1801.1 1062.2 L1805.0 1065.3 L1808.9 1068.4 L1812.9 1071.5 L1816.8 1074.6 L1820.7 1077.8 L1824.7 1080.9 L1828.6 1084.0 L1832.5 1087.2 L1836.4 1090.3 L1840.4 1093.4 L1844.3 1096.6 L1848.2 1099.7 L1852.1 1102.9 L1856.1 1106.1 L1860.0 1109.2" stroke="#37AD6B" stroke-dasharray="53.27 25.0 18.95 25.0 18.95 25.0"/>
<path d="M293.0 339.0 L296.9 339.3 L300.9 339.5 L304.8 339.8 L308.7 340.1 L312.7 340.3 L316.6 340.6 L320.6 340.9 L324.5 341.2 L328.4 341.4 L332.4 341.7 L336.3 342.0 L340.2 342.3 L344.2 342.6 L348.1 342.9 L352.0 343.2 L356.0 343.5 L359.9 343.8 L363.8 344.1 L367.8 344.4 L371.7 344.7 L375.7 345.0 L379.6 345.3 L383.5 345.7 L387.5 346.0 L391.4 346.3 L395.3 346.7 L399.3 347.0 L403.2 347.3 L407.1 347.7 L411.1 348.0 L415.0 348.4 L419.0 348.8 L422.9 349.1 L426.8 349.5 L430.8 349.8 L434.7 350.2 L438.6 350.6 L442.6 351.0 L446.5 351.4 L450.4 351.7 L454.4 352.1 L458.3 352.5 L462.3 352.9 L466.2 353.3 L470.1 353.8 L474.1 354.2 L478.0 354.6 L481.9 355.0 L485.9 355.4 L489.8 355.9 L493.7 356.3 L497.7 356.7 L501.6 357.2 L505.5 357.6 L509.5 358.1 L513.4 358.5 L517.4 359.0 L521.3 359.5 L525.2 359.9 L529.2 360.4 L533.1 360.9 L537.0 361.4 L541.0 361.9 L544.9 362.4 L548.8 362.9 L552.8 363.4 L556.7 363.9 L560.7 364.4 L564.6 365.0 L568.5 365.5 L572.5 366.0 L576.4 366.6 L580.3 367.1 L584.3 367.7 L588.2 368.2 L592.1 368.8 L596.1 369.3 L600.0 369.9 L604.0 370.5 L607.9 371.1 L611.8 371.7 L615.8 372.3 L619.7 372.9 L623.6 373.5 L627.6 374.1 L631.5 374.7 L635.4 375.3 L639.4 376.0 L643.3 376.6 L647.2 377.3 L651.2 377.9 L655.1 378.6 L659.1 379.2 L663.0 379.9 L666.9 380.6 L670.9 381.3 L674.8 382.0 L678.7 382.7 L682.7 383.4 L686.6 384.1 L690.5 384.8 L694.5 385.5 L698.4 386.3 L702.4 387.0 L706.3 387.7 L710.2 388.5 L714.2 389.3 L718.1 390.0 L722.0 390.8 L726.0 391.6 L729.9 392.4 L733.8 393.2 L737.8 394.0 L741.7 394.8 L745.7 395.6 L749.6 396.4 L753.5 397.3 L757.5 398.1 L761.4 399.0 L765.3 399.8 L769.3 400.7 L773.2 401.6 L777.1 402.4 L781.1 403.3 L785.0 404.2 L788.9 405.1 L792.9 406.1 L796.8 407.0 L800.8 407.9 L804.7 408.8 L808.6 409.8 L812.6 410.8 L816.5 411.7 L820.4 412.7 L824.4 413.7 L828.3 414.7 L832.2 415.7 L836.2 416.7 L840.1 417.7 L844.1 418.7 L848.0 419.8 L851.9 420.8 L855.9 421.9 L859.8 422.9 L863.7 424.0 L867.7 425.1 L871.6 426.2 L875.5 427.3 L879.5 428.4 L883.4 429.5 L887.3 430.6 L891.3 431.8 L895.2 432.9 L899.2 434.1 L903.1 435.2 L907.0 436.4 L911.0 437.6 L914.9 438.8 L918.8 440.0 L922.8 441.2 L926.7 442.4 L930.6 443.7 L934.6 444.9 L938.5 446.2 L942.5 447.4 L946.4 448.7 L950.3 450.0 L954.3 451.3 L958.2 452.6 L962.1 453.9 L966.1 455.2 L970.0 456.6 L973.9 457.9 L977.9 459.3 L981.8 460.7 L985.8 462.0 L989.7 463.4 L993.6 464.8 L997.6 466.2 L1001.5 467.7 L1005.4 469.1 L1009.4 470.5 L1013.3 472.0 L1017.2 473.5 L1021.2 474.9 L1025.1 476.4 L1029.0 477.9 L1033.0 479.4 L1036.9 481.0 L1040.9 482.5 L1044.8 484.0 L1048.7 485.6 L1052.7 487.1 L1056.6 488.7 L1060.5 490.3 L1064.5 491.9 L1068.4 493.5 L1072.3 495.1 L1076.3 496.8 L1080.2 498.4 L1084.2 500.1 L1088.1 501.7 L1092.0 503.4 L1096.0 505.1 L1099.9 506.8 L1103.8 508.5 L1107.8 510.3 L1111.7 512.0 L1115.6 513.7 L1119.6 515.5 L1123.5 517.3 L1127.5 519.1 L1131.4 520.9 L1135.3 522.7 L1139.3 524.5 L1143.2 526.3 L1147.1 528.2 L1151.1 530.0 L1155.0 531.9 L1158.9 533.8 L1162.9 535.6 L1166.8 537.5 L1170.7 539.5 L1174.7 541.4 L1178.6 543.3 L1182.6 545.3 L1186.5 547.2 L1190.4 549.2 L1194.4 551.2 L1198.3 553.2 L1202.2 555.2 L1206.2 557.2 L1210.1 559.2 L1214.0 561.3 L1218.0 563.3 L1221.9 565.4 L1225.9 567.5 L1229.8 569.6 L1233.7 571.7 L1237.7 573.8 L1241.6 575.9 L1245.5 578.1 L1249.5 580.2 L1253.4 582.4 L1257.3 584.5 L1261.3 586.7 L1265.2 588.9 L1269.2 591.1 L1273.1 593.4 L1277.0 595.6 L1281.0 597.8 L1284.9 600.1 L1288.8 602.4 L1292.8 604.6 L1296.7 606.9 L1300.6 609.2 L1304.6 611.5 L1308.5 613.9 L1312.4 616.2 L1316.4 618.6 L1320.3 620.9 L1324.3 623.3 L1328.2 625.7 L1332.1 628.1 L1336.1 630.5 L1340.0 632.9 L1343.9 635.3 L1347.9 637.8 L1351.8 640.2 L1355.7 642.7 L1359.7 645.2 L1363.6 647.7 L1367.6 650.2 L1371.5 652.7 L1375.4 655.2 L1379.4 657.7 L1383.3 660.3 L1387.2 662.8 L1391.2 665.4 L1395.1 668.0 L1399.0 670.5 L1403.0 673.1 L1406.9 675.8 L1410.8 678.4 L1414.8 681.0 L1418.7 683.6 L1422.7 686.3 L1426.6 689.0 L1430.5 691.6 L1434.5 694.3 L1438.4 697.0 L1442.3 699.7 L1446.3 702.4 L1450.2 705.2 L1454.1 707.9 L1458.1 710.7 L1462.0 713.4 L1466.0 716.2 L1469.9 719.0 L1473.8 721.8 L1477.8 724.6 L1481.7 727.4 L1485.6 730.2 L1489.6 733.0 L1493.5 735.9 L1497.4 738.7 L1501.4 741.6 L1505.3 744.5 L1509.3 747.3 L1513.2 750.2 L1517.1 753.1 L1521.1 756.0 L1525.0 759.0 L1528.9 761.9 L1532.9 764.8 L1536.8 767.8 L1540.7 770.7 L1544.7 773.7 L1548.6 776.7 L1552.5 779.7 L1556.5 782.7 L1560.4 785.7 L1564.4 788.7 L1568.3 791.7 L1572.2 794.8 L1576.2 797.8 L1580.1 800.8 L1584.0 803.9 L1588.0 807.0 L1591.9 810.1 L1595.8 813.1 L1599.8 816.2 L1603.7 819.3 L1607.7 822.5 L1611.6 825.6 L1615.5 828.7 L1619.5 831.9 L1623.4 835.0 L1627.3 838.2 L1631.3 841.3 L1635.2 844.5 L1639.1 847.7 L1643.1 850.9 L1647.0 854.1 L1651.0 857.3 L1654.9 860.5 L1658.8 863.7 L1662.8 866.9 L1666.7 870.2 L1670.6 873.4 L1674.6 876.7 L1678.5 879.9 L1682.4 883.2 L1686.4 886.5 L1690.3 889.7 L1694.2 893.0 L1698.2 896.3 L1702.1 899.6 L1706.1 902.9 L1710.0 906.3 L1713.9 909.6 L1717.9 912.9 L1721.8 916.3 L1725.7 919.6 L1729.7 923.0 L1733.6 926.3 L1737.5 929.7 L1741.5 933.1 L1745.4 936.5 L1749.4 939.9 L1753.3 943.3 L1757.2 946.7 L1761.2 950.1 L1765.1 953.5 L1769.0 956.9 L1773.0 960.3 L1776.9 963.8 L1780.8 967.2 L1784.8 970.7 L1788.7 974.1 L1792.7 977.6 L1796.6 981.0 L1800.5 984.5 L1804.5 988.0 L1808.4 991.5 L1812.3 995.0 L1816.3 998.5 L1820.2 1002.0 L1824.1 1005.5 L1828.1 1009.0 L1832.0 1012.5 L1835.9 1016.0 L1839.9 1019.6 L1843.8 1023.1 L1847.8 1026.6 L1851.7 1030.2 L1855.6 1033.7 L1859.6 1037.3 L1863.5 1040.9" stroke="#B177DE" stroke-dasharray="28.96 19.57"/>
<path d="M293.0 240.6 L296.9 240.8 L300.8 241.1 L304.8 241.3 L308.7 241.6 L312.6 241.8 L316.5 242.1 L320.5 242.4 L324.4 242.6 L328.3 242.9 L332.2 243.1 L336.2 243.4 L340.1 243.7 L344.0 244.0 L347.9 244.2 L351.9 244.5 L355.8 244.8 L359.7 245.1 L363.6 245.4 L367.5 245.7 L371.5 246.0 L375.4 246.3 L379.3 246.6 L383.2 246.9 L387.2 247.2 L391.1 247.5 L395.0 247.8 L398.9 248.1 L402.9 248.5 L406.8 248.8 L410.7 249.1 L414.6 249.5 L418.6 249.8 L422.5 250.1 L426.4 250.5 L430.3 250.8 L434.2 251.2 L438.2 251.5 L442.1 251.9 L446.0 252.3 L449.9 252.6 L453.9 253.0 L457.8 253.4 L461.7 253.8 L465.6 254.1 L469.6 254.5 L473.5 254.9 L477.4 255.3 L481.3 255.7 L485.3 256.1 L489.2 256.5 L493.1 257.0 L497.0 257.4 L500.9 257.8 L504.9 258.2 L508.8 258.7 L512.7 259.1 L516.6 259.5 L520.6 260.0 L524.5 260.4 L528.4 260.9 L532.3 261.3 L536.3 261.8 L540.2 262.3 L544.1 262.7 L548.0 263.2 L552.0 263.7 L555.9 264.2 L559.8 264.7 L563.7 265.2 L567.6 265.7 L571.6 266.2 L575.5 266.7 L579.4 267.2 L583.3 267.8 L587.3 268.3 L591.2 268.8 L595.1 269.4 L599.0 269.9 L603.0 270.5 L606.9 271.0 L610.8 271.6 L614.7 272.2 L618.7 272.7 L622.6 273.3 L626.5 273.9 L630.4 274.5 L634.3 275.1 L638.3 275.7 L642.2 276.3 L646.1 276.9 L650.0 277.6 L654.0 278.2 L657.9 278.8 L661.8 279.5 L665.7 280.1 L669.7 280.8 L673.6 281.4 L677.5 282.1 L681.4 282.8 L685.4 283.5 L689.3 284.2 L693.2 284.9 L697.1 285.6 L701.1 286.3 L705.0 287.0 L708.9 287.7 L712.8 288.4 L716.7 289.2 L720.7 289.9 L724.6 290.7 L728.5 291.4 L732.4 292.2 L736.4 293.0 L740.3 293.8 L744.2 294.6 L748.1 295.3 L752.1 296.2 L756.0 297.0 L759.9 297.8 L763.8 298.6 L767.8 299.5 L771.7 300.3 L775.6 301.1 L779.5 302.0 L783.4 302.9 L787.4 303.8 L791.3 304.6 L795.2 305.5 L799.1 306.4 L803.1 307.3 L807.0 308.3 L810.9 309.2 L814.8 310.1 L818.8 311.1 L822.7 312.0 L826.6 313.0 L830.5 314.0 L834.5 314.9 L838.4 315.9 L842.3 316.9 L846.2 317.9 L850.1 318.9 L854.1 320.0 L858.0 321.0 L861.9 322.0 L865.8 323.1 L869.8 324.2 L873.7 325.2 L877.6 326.3 L881.5 327.4 L885.5 328.5 L889.4 329.6 L893.3 330.7 L897.2 331.9 L901.2 333.0 L905.1 334.2 L909.0 335.3 L912.9 336.5 L916.8 337.7 L920.8 338.9 L924.7 340.1 L928.6 341.3 L932.5 342.5 L936.5 343.7 L940.4 345.0 L944.3 346.2 L948.2 347.5 L952.2 348.7 L956.1 350.0 L960.0 351.3 L963.9 352.6 L967.9 354.0 L971.8 355.3 L975.7 356.6 L979.6 358.0 L983.5 359.3 L987.5 360.7 L991.4 362.1 L995.3 363.5 L999.2 364.9 L1003.2 366.3 L1007.1 367.7 L1011.0 369.2 L1014.9 370.6 L1018.9 372.1 L1022.8 373.6 L1026.7 375.0 L1030.6 376.5 L1034.6 378.0 L1038.5 379.6 L1042.4 381.1 L1046.3 382.6 L1050.2 384.2 L1054.2 385.8 L1058.1 387.4 L1062.0 388.9 L1065.9 390.5 L1069.9 392.2 L1073.8 393.8 L1077.7 395.4 L1081.6 397.1 L1085.6 398.8 L1089.5 400.4 L1093.4 402.1 L1097.3 403.8 L1101.3 405.5 L1105.2 407.3 L1109.1 409.0 L1113.0 410.8 L1116.9 412.5 L1120.9 414.3 L1124.8 416.1 L1128.7 417.9 L1132.6 419.7 L1136.6 421.5 L1140.5 423.4 L1144.4 425.2 L1148.3 427.1 L1152.3 429.0 L1156.2 430.9 L1160.1 432.8 L1164.0 434.7 L1168.0 436.6 L1171.9 438.6 L1175.8 440.5 L1179.7 442.5 L1183.6 444.5 L1187.6 446.5 L1191.5 448.5 L1195.4 450.5 L1199.3 452.6 L1203.3 454.6 L1207.2 456.7 L1211.1 458.7 L1215.0 460.8 L1219.0 462.9 L1222.9 465.0 L1226.8 467.2 L1230.7 469.3 L1234.7 471.5 L1238.6 473.6 L1242.5 475.8 L1246.4 478.0 L1250.3 480.2 L1254.3 482.4 L1258.2 484.7 L1262.1 486.9 L1266.0 489.2 L1270.0 491.5 L1273.9 493.8 L1277.8 496.1 L1281.7 498.4 L1285.7 500.7 L1289.6 503.0 L1293.5 505.4 L1297.4 507.8 L1301.4 510.1 L1305.3 512.5 L1309.2 514.9 L1313.1 517.4 L1317.0 519.8 L1321.0 522.2 L1324.9 524.7 L1328.8 527.2 L1332.7 529.7 L1336.7 532.2 L1340.6 534.7 L1344.5 537.2 L1348.4 539.7 L1352.4 542.3 L1356.3 544.9 L1360.2 547.4 L1364.1 550.0 L1368.1 552.6 L1372.0 555.3 L1375.9 557.9 L1379.8 560.5 L1383.7 563.2 L1387.7 565.9 L1391.6 568.5 L1395.5 571.2 L1399.4 574.0 L1403.4 576.7 L1407.3 579.4 L1411.2 582.2 L1415.1 584.9 L1419.1 587.7 L1423.0 590.5 L1426.9 593.3 L1430.8 596.1 L1434.8 598.9 L1438.7 601.8 L1442.6 604.6 L1446.5 607.5 L1450.4 610.3 L1454.4 613.2 L1458.3 616.1 L1462.2 619.0 L1466.1 622.0 L1470.1 624.9 L1474.0 627.8 L1477.9 630.8 L1481.8 633.8 L1485.8 636.8 L1489.7 639.8 L1493.6 642.8 L1497.5 645.8 L1501.5 648.8 L1505.4 651.9 L1509.3 654.9 L1513.2 658.0 L1517.2 661.1 L1521.1 664.2 L1525.0 667.3 L1528.9 670.4 L1532.8 673.5 L1536.8 676.7 L1540.7 679.8 L1544.6 683.0 L1548.5 686.1 L1552.5 689.3 L1556.4 692.5 L1560.3 695.7 L1564.2 699.0 L1568.2 702.2 L1572.1 705.4 L1576.0 708.7 L1579.9 711.9 L1583.9 715.2 L1587.8 718.5 L1591.7 721.8 L1595.6 725.1 L1599.5 728.4 L1603.5 731.8 L1607.4 735.1 L1611.3 738.4 L1615.2 741.8 L1619.2 745.2 L1623.1 748.6 L1627.0 751.9 L1630.9 755.3 L1634.9 758.8 L1638.8 762.2 L1642.7 765.6 L1646.6 769.1 L1650.6 772.5 L1654.5 776.0 L1658.4 779.4 L1662.3 782.9 L1666.2 786.4 L1670.2 789.9 L1674.1 793.4 L1678.0 796.9 L1681.9 800.5 L1685.9 804.0 L1689.8 807.6 L1693.7 811.1 L1697.6 814.7 L1701.6 818.3 L1705.5 821.8 L1709.4 825.4 L1713.3 829.0 L1717.3 832.7 L1721.2 836.3 L1725.1 839.9 L1729.0 843.6 L1732.9 847.2 L1736.9 850.9 L1740.8 854.5 L1744.7 858.2 L1748.6 861.9 L1752.6 865.6 L1756.5 869.3 L1760.4 873.0 L1764.3 876.7 L1768.3 880.4 L1772.2 884.2 L1776.1 887.9 L1780.0 891.6 L1784.0 895.4 L1787.9 899.2 L1791.8 902.9 L1795.7 906.7 L1799.6 910.5 L1803.6 914.3 L1807.5 918.1 L1811.4 921.9 L1815.3 925.7 L1819.3 929.6 L1823.2 933.4 L1827.1 937.2 L1831.0 941.1 L1835.0 944.9 L1838.9 948.8 L1842.8 952.7 L1846.7 956.6 L1850.7 960.4 L1854.6 964.3 L1858.5 968.2" stroke="#CC9900" stroke-dasharray="11.75 9.74"/>
<path d="M293.0 158.9 L296.9 159.1 L300.8 159.3 L304.7 159.5 L308.7 159.8 L312.6 160.0 L316.5 160.2 L320.4 160.5 L324.3 160.7 L328.2 161.0 L332.1 161.2 L336.1 161.5 L340.0 161.7 L343.9 162.0 L347.8 162.2 L351.7 162.5 L355.6 162.8 L359.6 163.0 L363.5 163.3 L367.4 163.6 L371.3 163.9 L375.2 164.1 L379.1 164.4 L383.0 164.7 L387.0 165.0 L390.9 165.3 L394.8 165.6 L398.7 165.9 L402.6 166.2 L406.5 166.5 L410.4 166.8 L414.4 167.1 L418.3 167.4 L422.2 167.7 L426.1 168.1 L430.0 168.4 L433.9 168.7 L437.8 169.1 L441.8 169.4 L445.7 169.7 L449.6 170.1 L453.5 170.4 L457.4 170.8 L461.3 171.1 L465.3 171.5 L469.2 171.9 L473.1 172.2 L477.0 172.6 L480.9 173.0 L484.8 173.3 L488.7 173.7 L492.7 174.1 L496.6 174.5 L500.5 174.9 L504.4 175.3 L508.3 175.7 L512.2 176.1 L516.1 176.5 L520.1 176.9 L524.0 177.4 L527.9 177.8 L531.8 178.2 L535.7 178.7 L539.6 179.1 L543.5 179.5 L547.5 180.0 L551.4 180.4 L555.3 180.9 L559.2 181.4 L563.1 181.8 L567.0 182.3 L570.9 182.8 L574.9 183.3 L578.8 183.8 L582.7 184.2 L586.6 184.7 L590.5 185.3 L594.4 185.8 L598.4 186.3 L602.3 186.8 L606.2 187.3 L610.1 187.9 L614.0 188.4 L617.9 188.9 L621.8 189.5 L625.8 190.0 L629.7 190.6 L633.6 191.2 L637.5 191.7 L641.4 192.3 L645.3 192.9 L649.2 193.5 L653.2 194.1 L657.1 194.7 L661.0 195.3 L664.9 195.9 L668.8 196.5 L672.7 197.1 L676.6 197.8 L680.6 198.4 L684.5 199.0 L688.4 199.7 L692.3 200.4 L696.2 201.0 L700.1 201.7 L704.1 202.4 L708.0 203.0 L711.9 203.7 L715.8 204.4 L719.7 205.1 L723.6 205.9 L727.5 206.6 L731.5 207.3 L735.4 208.0 L739.3 208.8 L743.2 209.5 L747.1 210.3 L751.0 211.0 L754.9 211.8 L758.9 212.6 L762.8 213.4 L766.7 214.2 L770.6 215.0 L774.5 215.8 L778.4 216.6 L782.3 217.4 L786.3 218.3 L790.2 219.1 L794.1 220.0 L798.0 220.8 L801.9 221.7 L805.8 222.6 L809.8 223.4 L813.7 224.3 L817.6 225.2 L821.5 226.1 L825.4 227.1 L829.3 228.0 L833.2 228.9 L837.2 229.9 L841.1 230.8 L845.0 231.8 L848.9 232.7 L852.8 233.7 L856.7 234.7 L860.6 235.7 L864.6 236.7 L868.5 237.7 L872.4 238.8 L876.3 239.8 L880.2 240.8 L884.1 241.9 L888.0 243.0 L892.0 244.0 L895.9 245.1 L899.8 246.2 L903.7 247.3 L907.6 248.4 L911.5 249.6 L915.5 250.7 L919.4 251.8 L923.3 253.0 L927.2 254.2 L931.1 255.3 L935.0 256.5 L938.9 257.7 L942.9 258.9 L946.8 260.1 L950.7 261.4 L954.6 262.6 L958.5 263.9 L962.4 265.1 L966.3 266.4 L970.3 267.7 L974.2 269.0 L978.1 270.3 L982.0 271.6 L985.9 272.9 L989.8 274.3 L993.7 275.6 L997.7 277.0 L1001.6 278.4 L1005.5 279.7 L1009.4 281.1 L1013.3 282.6 L1017.2 284.0 L1021.2 285.4 L1025.1 286.9 L1029.0 288.3 L1032.9 289.8 L1036.8 291.3 L1040.7 292.8 L1044.6 294.3 L1048.6 295.8 L1052.5 297.3 L1056.4 298.9 L1060.3 300.4 L1064.2 302.0 L1068.1 303.6 L1072.0 305.2 L1076.0 306.8 L1079.9 308.4 L1083.8 310.0 L1087.7 311.7 L1091.6 313.3 L1095.5 315.0 L1099.4 316.7 L1103.4 318.4 L1107.3 320.1 L1111.2 321.8 L1115.1 323.5 L1119.0 325.3 L1122.9 327.0 L1126.8 328.8 L1130.8 330.6 L1134.7 332.4 L1138.6 334.2 L1142.5 336.1 L1146.4 337.9 L1150.3 339.8 L1154.3 341.6 L1158.2 343.5 L1162.1 345.4 L1166.0 347.3 L1169.9 349.3 L1173.8 351.2 L1177.7 353.1 L1181.7 355.1 L1185.6 357.1 L1189.5 359.1 L1193.4 361.1 L1197.3 363.1 L1201.2 365.2 L1205.1 367.2 L1209.1 369.3 L1213.0 371.4 L1216.9 373.5 L1220.8 375.6 L1224.7 377.7 L1228.6 379.8 L1232.5 382.0 L1236.5 384.1 L1240.4 386.3 L1244.3 388.5 L1248.2 390.7 L1252.1 393.0 L1256.0 395.2 L1260.0 397.5 L1263.9 399.7 L1267.8 402.0 L1271.7 404.3 L1275.6 406.6 L1279.5 408.9 L1283.4 411.3 L1287.4 413.6 L1291.3 416.0 L1295.2 418.4 L1299.1 420.8 L1303.0 423.2 L1306.9 425.6 L1310.8 428.1 L1314.8 430.5 L1318.7 433.0 L1322.6 435.5 L1326.5 438.0 L1330.4 440.5 L1334.3 443.1 L1338.2 445.6 L1342.2 448.2 L1346.1 450.7 L1350.0 453.3 L1353.9 455.9 L1357.8 458.6 L1361.7 461.2 L1365.7 463.8 L1369.6 466.5 L1373.5 469.2 L1377.4 471.9 L1381.3 474.6 L1385.2 477.3 L1389.1 480.1 L1393.1 482.8 L1397.0 485.6 L1400.9 488.4 L1404.8 491.2 L1408.7 494.0 L1412.6 496.8 L1416.5 499.6 L1420.5 502.5 L1424.4 505.4 L1428.3 508.3 L1432.2 511.2 L1436.1 514.1 L1440.0 517.0 L1443.9 519.9 L1447.9 522.9 L1451.8 525.9 L1455.7 528.9 L1459.6 531.9 L1463.5 534.9 L1467.4 537.9 L1471.4 541.0 L1475.3 544.0 L1479.2 547.1 L1483.1 550.2 L1487.0 553.3 L1490.9 556.4 L1494.8 559.5 L1498.8 562.7 L1502.7 565.8 L1506.6 569.0 L1510.5 572.2 L1514.4 575.4 L1518.3 578.6 L1522.2 581.8 L1526.2 585.0 L1530.1 588.3 L1534.0 591.6 L1537.9 594.8 L1541.8 598.1 L1545.7 601.4 L1549.6 604.8 L1553.6 608.1 L1557.5 611.4 L1561.4 614.8 L1565.3 618.2 L1569.2 621.6 L1573.1 625.0 L1577.1 628.4 L1581.0 631.8 L1584.9 635.2 L1588.8 638.7 L1592.7 642.2 L1596.6 645.6 L1600.5 649.1 L1604.5 652.6 L1608.4 656.2 L1612.3 659.7 L1616.2 663.2 L1620.1 666.8 L1624.0 670.4 L1627.9 673.9 L1631.9 677.5 L1635.8 681.1 L1639.7 684.7 L1643.6 688.4 L1647.5 692.0 L1651.4 695.7 L1655.3 699.3 L1659.3 703.0 L1663.2 706.7 L1667.1 710.4 L1671.0 714.1 L1674.9 717.8 L1678.8 721.6 L1682.7 725.3 L1686.7 729.1 L1690.6 732.9 L1694.5 736.6 L1698.4 740.4 L1702.3 744.2 L1706.2 748.0 L1710.2 751.9 L1714.1 755.7 L1718.0 759.6 L1721.9 763.4 L1725.8 767.3 L1729.7 771.2 L1733.6 775.1 L1737.6 779.0 L1741.5 782.9 L1745.4 786.8 L1749.3 790.7 L1753.2 794.7 L1757.1 798.6 L1761.0 802.6 L1765.0 806.6 L1768.9 810.6 L1772.8 814.6 L1776.7 818.6 L1780.6 822.6 L1784.5 826.6 L1788.4 830.7 L1792.4 834.7 L1796.3 838.8 L1800.2 842.8 L1804.1 846.9 L1808.0 851.0 L1811.9 855.1 L1815.9 859.2 L1819.8 863.3 L1823.7 867.4 L1827.6 871.5 L1831.5 875.7 L1835.4 879.8 L1839.3 884.0 L1843.3 888.2 L1847.2 892.3 L1851.1 896.5 L1855.0 900.7" stroke="#00CBCC" stroke-dasharray="44.54 14.61 11.51 14.61"/>
<path d="M298.7 94.2 L305.2 94.5 L311.8 94.9 L318.3 95.3 L324.8 95.6 L331.3 96.0 L337.9 96.4 L344.4 96.8 L350.9 97.2 L357.5 97.6 L364.0 98.0 L370.5 98.4 L377.1 98.9 L383.6 99.3 L390.1 99.8 L396.6 100.2 L403.2 100.7 L409.7 101.2 L416.2 101.6 L422.8 102.1 L429.3 102.6 L435.8 103.1 L442.4 103.7 L448.9 104.2 L455.4 104.7 L461.9 105.3 L468.5 105.8 L475.0 106.4 L481.5 107.0 L488.1 107.6 L494.6 108.2 L501.1 108.8 L507.7 109.4 L514.2 110.0 L520.7 110.7 L527.2 111.3 L533.8 112.0 L540.3 112.7 L546.8 113.4 L553.4 114.1 L559.9 114.8 L566.4 115.5 L572.9 116.3 L579.5 117.0 L586.0 117.8 L592.5 118.6 L599.1 119.4 L605.6 120.2 L612.1 121.0 L618.7 121.8 L625.2 122.7 L631.7 123.6 L638.2 124.5 L644.8 125.4 L651.3 126.3 L657.8 127.2 L664.4 128.2 L670.9 129.1 L677.4 130.1 L684.0 131.1 L690.5 132.1 L697.0 133.2 L703.5 134.2 L710.1 135.3 L716.6 136.4 L723.1 137.5 L729.7 138.6 L736.2 139.8 L742.7 140.9 L749.2 142.1 L755.8 143.3 L762.3 144.5 L768.8 145.8 L775.4 147.1 L781.9 148.4 L788.4 149.7 L795.0 151.0 L801.5 152.4 L808.0 153.7 L814.5 155.1 L821.1 156.6 L827.6 158.0 L834.1 159.5 L840.7 161.0 L847.2 162.5 L853.7 164.0 L860.3 165.6 L866.8 167.2 L873.3 168.8 L879.8 170.5 L886.4 172.1 L892.9 173.8 L899.4 175.6 L906.0 177.3 L912.5 179.1 L919.0 180.9 L925.6 182.7 L932.1 184.6 L938.6 186.5 L945.1 188.4 L951.7 190.4 L958.2 192.4 L964.7 194.4 L971.3 196.4 L977.8 198.5 L984.3 200.6 L990.8 202.8 L997.4 204.9 L1003.9 207.1 L1010.4 209.4 L1017.0 211.6 L1023.5 213.9 L1030.0 216.3 L1036.6 218.6 L1043.1 221.0 L1049.6 223.5 L1056.1 226.0 L1062.7 228.5 L1069.2 231.0 L1075.7 233.6 L1082.3 236.2 L1088.8 238.9 L1095.3 241.6 L1101.9 244.3 L1108.4 247.0 L1114.9 249.9 L1121.4 252.7 L1128.0 255.6 L1134.5 258.5 L1141.0 261.4 L1147.6 264.4 L1154.1 267.5 L1160.6 270.6 L1167.2 273.7 L1173.7 276.8 L1180.2 280.0 L1186.7 283.3 L1193.3 286.5 L1199.8 289.9 L1206.3 293.2 L1212.9 296.6 L1219.4 300.1 L1225.9 303.5 L1232.4 307.1 L1239.0 310.6 L1245.5 314.3 L1252.0 317.9 L1258.6 321.6 L1265.1 325.4 L1271.6 329.1 L1278.2 333.0 L1284.7 336.9 L1291.2 340.8 L1297.7 344.7 L1304.3 348.7 L1310.8 352.8 L1317.3 356.9 L1323.9 361.0 L1330.4 365.2 L1336.9 369.4 L1343.5 373.7 L1350.0 378.0 L1356.5 382.4 L1363.0 386.8 L1369.6 391.3 L1376.1 395.8 L1382.6 400.3 L1389.2 404.9 L1395.7 409.5 L1402.2 414.2 L1408.8 418.9 L1415.3 423.7 L1421.8 428.5 L1428.3 433.4 L1434.9 438.3 L1441.4 443.3 L1447.9 448.2 L1454.5 453.3 L1461.0 458.4 L1467.5 463.5 L1474.0 468.7 L1480.6 473.9 L1487.1 479.2 L1493.6 484.5 L1500.2 489.8 L1506.7 495.2 L1513.2 500.7 L1519.8 506.2 L1526.3 511.7 L1532.8 517.3 L1539.3 522.9 L1545.9 528.6 L1552.4 534.3 L1558.9 540.0 L1565.5 545.8 L1572.0 551.7 L1578.5 557.5 L1585.1 563.5 L1591.6 569.4 L1598.1 575.4 L1604.6 581.5 L1611.2 587.6 L1617.7 593.7 L1624.2 599.9 L1630.8 606.1 L1637.3 612.3 L1643.8 618.6 L1650.3 624.9 L1656.9 631.3 L1663.4 637.7 L1669.9 644.2 L1676.5 650.7 L1683.0 657.2 L1689.5 663.7 L1696.1 670.3 L1702.6 677.0 L1709.1 683.7 L1715.6 690.4 L1722.2 697.1 L1728.7 703.9 L1735.2 710.8 L1741.8 717.6 L1748.3 724.5 L1754.8 731.4 L1761.4 738.4 L1767.9 745.4 L1774.4 752.4 L1780.9 759.5 L1787.5 766.6 L1794.0 773.8 L1800.5 780.9 L1807.1 788.1 L1813.6 795.4 L1820.1 802.6 L1826.7 809.9 L1833.2 817.2 L1839.7 824.6 L1846.2 832.0 L1852.8 839.4 L1859.3 846.9" stroke="#FF0000" stroke-linecap="square"/>
</g>
<rect x="1471.0" y="43.4" width="384.79999999999995" height="437.40000000000003" fill="#fff" stroke="#000" stroke-width="2"/>
<path d="M1475.3 91.3h158.8" stroke="#FF0000" stroke-width="11.3" fill="none"/>
<text x="1663.5" y="118.0" font-size="74.5"><tspan font-style="italic">M</tspan><tspan font-size="55.5" dy="21.3" dx="1">S</tspan><tspan dy="-21.3" dx="-2" letter-spacing="-1.6">6.5</tspan></text>
<path d="M1475.3 199.1h158.8" stroke="#00CBCC" stroke-width="11.3" fill="none" stroke-dasharray="44.5 14.6 11.5 14.6"/>
<text x="1663.5" y="225.8" font-size="74.5"><tspan font-style="italic">M</tspan><tspan font-size="55.5" dy="21.3" dx="1">S</tspan><tspan dy="-21.3" dx="-2" letter-spacing="-1.6">6</tspan></text>
<path d="M1475.3 306.4h141" stroke="#CC9900" stroke-width="11.3" fill="none" stroke-dasharray="11.7 9.7"/>
<text x="1663.5" y="333.1" font-size="74.5"><tspan font-style="italic">M</tspan><tspan font-size="55.5" dy="21.3" dx="1">S</tspan><tspan dy="-21.3" dx="-2" letter-spacing="-1.6">5.5</tspan></text>
<path d="M1475.3 413.3h158.8" stroke="#B177DE" stroke-width="11.3" fill="none" stroke-dasharray="29 19.6"/>
<text x="1663.5" y="440.0" font-size="74.5"><tspan font-style="italic">M</tspan><tspan font-size="55.5" dy="21.3" dx="1">S</tspan><tspan dy="-21.3" dx="-2" letter-spacing="-1.6">5</tspan></text>
<rect x="301.6" y="1164.7" width="385.79999999999995" height="438.5999999999999" fill="#fff" stroke="#000" stroke-width="2"/>
<path d="M306 1213.3h158.5" stroke="#37AD6B" stroke-width="11.3" fill="none" stroke-dasharray="52 24.4 18.5 24.4 18.5 24.4"/>
<text x="495" y="1240.0" font-size="74.5"><tspan font-style="italic">M</tspan><tspan font-size="55.5" dy="21.3" dx="1">S</tspan><tspan dy="-21.3" dx="-2" letter-spacing="-1.6">4.5</tspan></text>
<path d="M306 1320.6h158.5" stroke="#1A6FDF" stroke-width="11.3" fill="none" stroke-dasharray="67 24.6 18.4 24.6"/>
<text x="495" y="1347.3" font-size="74.5"><tspan font-style="italic">M</tspan><tspan font-size="55.5" dy="21.3" dx="1">S</tspan><tspan dy="-21.3" dx="-2" letter-spacing="-1.6">4</tspan></text>
<path d="M306 1428.0h158.5" stroke="#F14040" stroke-width="11.3" fill="none" stroke-dasharray="18.5 45.5"/>
<text x="495" y="1454.7" font-size="74.5"><tspan font-style="italic">M</tspan><tspan font-size="55.5" dy="21.3" dx="1">S</tspan><tspan dy="-21.3" dx="-2" letter-spacing="-1.6">3.5</tspan></text>
<path d="M306 1535.1h158.5" stroke="#515151" stroke-width="11.3" fill="none" stroke-dasharray="56.5 51"/>
<text x="495" y="1561.8" font-size="74.5"><tspan font-style="italic">M</tspan><tspan font-size="55.5" dy="21.3" dx="1">S</tspan><tspan dy="-21.3" dx="-2" letter-spacing="-1.6">3</tspan></text>
<text transform="translate(246.6 1631.9) scale(0.96 1)" font-size="68" text-anchor="end">1</text>
<text transform="translate(246.6 1138.2) scale(0.96 1)" font-size="68" text-anchor="end">10</text>
<text transform="translate(246.6 644.6) scale(0.96 1)" font-size="68" text-anchor="end">100</text>
<text transform="translate(246.6 151.0) scale(0.96 1)" font-size="68" text-anchor="end">1000</text>
<text transform="translate(246.6 64.1) scale(0.96 1)" font-size="68" text-anchor="end">1500</text>
<text transform="translate(298.9 1714.8) scale(0.96 1)" font-size="68" text-anchor="middle">1</text>
<text transform="translate(1080.2 1714.8) scale(0.96 1)" font-size="68" text-anchor="middle">10</text>
<text transform="translate(1860.5 1714.8) scale(0.96 1)" font-size="68" text-anchor="middle">100</text>
<text transform="translate(1079 1823.5) scale(0.7 1)" x="-116.3 -41.1 5.6 55.6" y="0" font-size="84" stroke="#fff" stroke-width="1.1">R/km</text>
<text transform="translate(83.6 823.3) rotate(-90) scale(0.8 1)" x="-180.9 -135.9 -77.8 -10.4 30.2 83.9 142.1" y="0" font-size="84" stroke="#fff" stroke-width="1.1">PGA/gal</text>
</svg></body></html>
